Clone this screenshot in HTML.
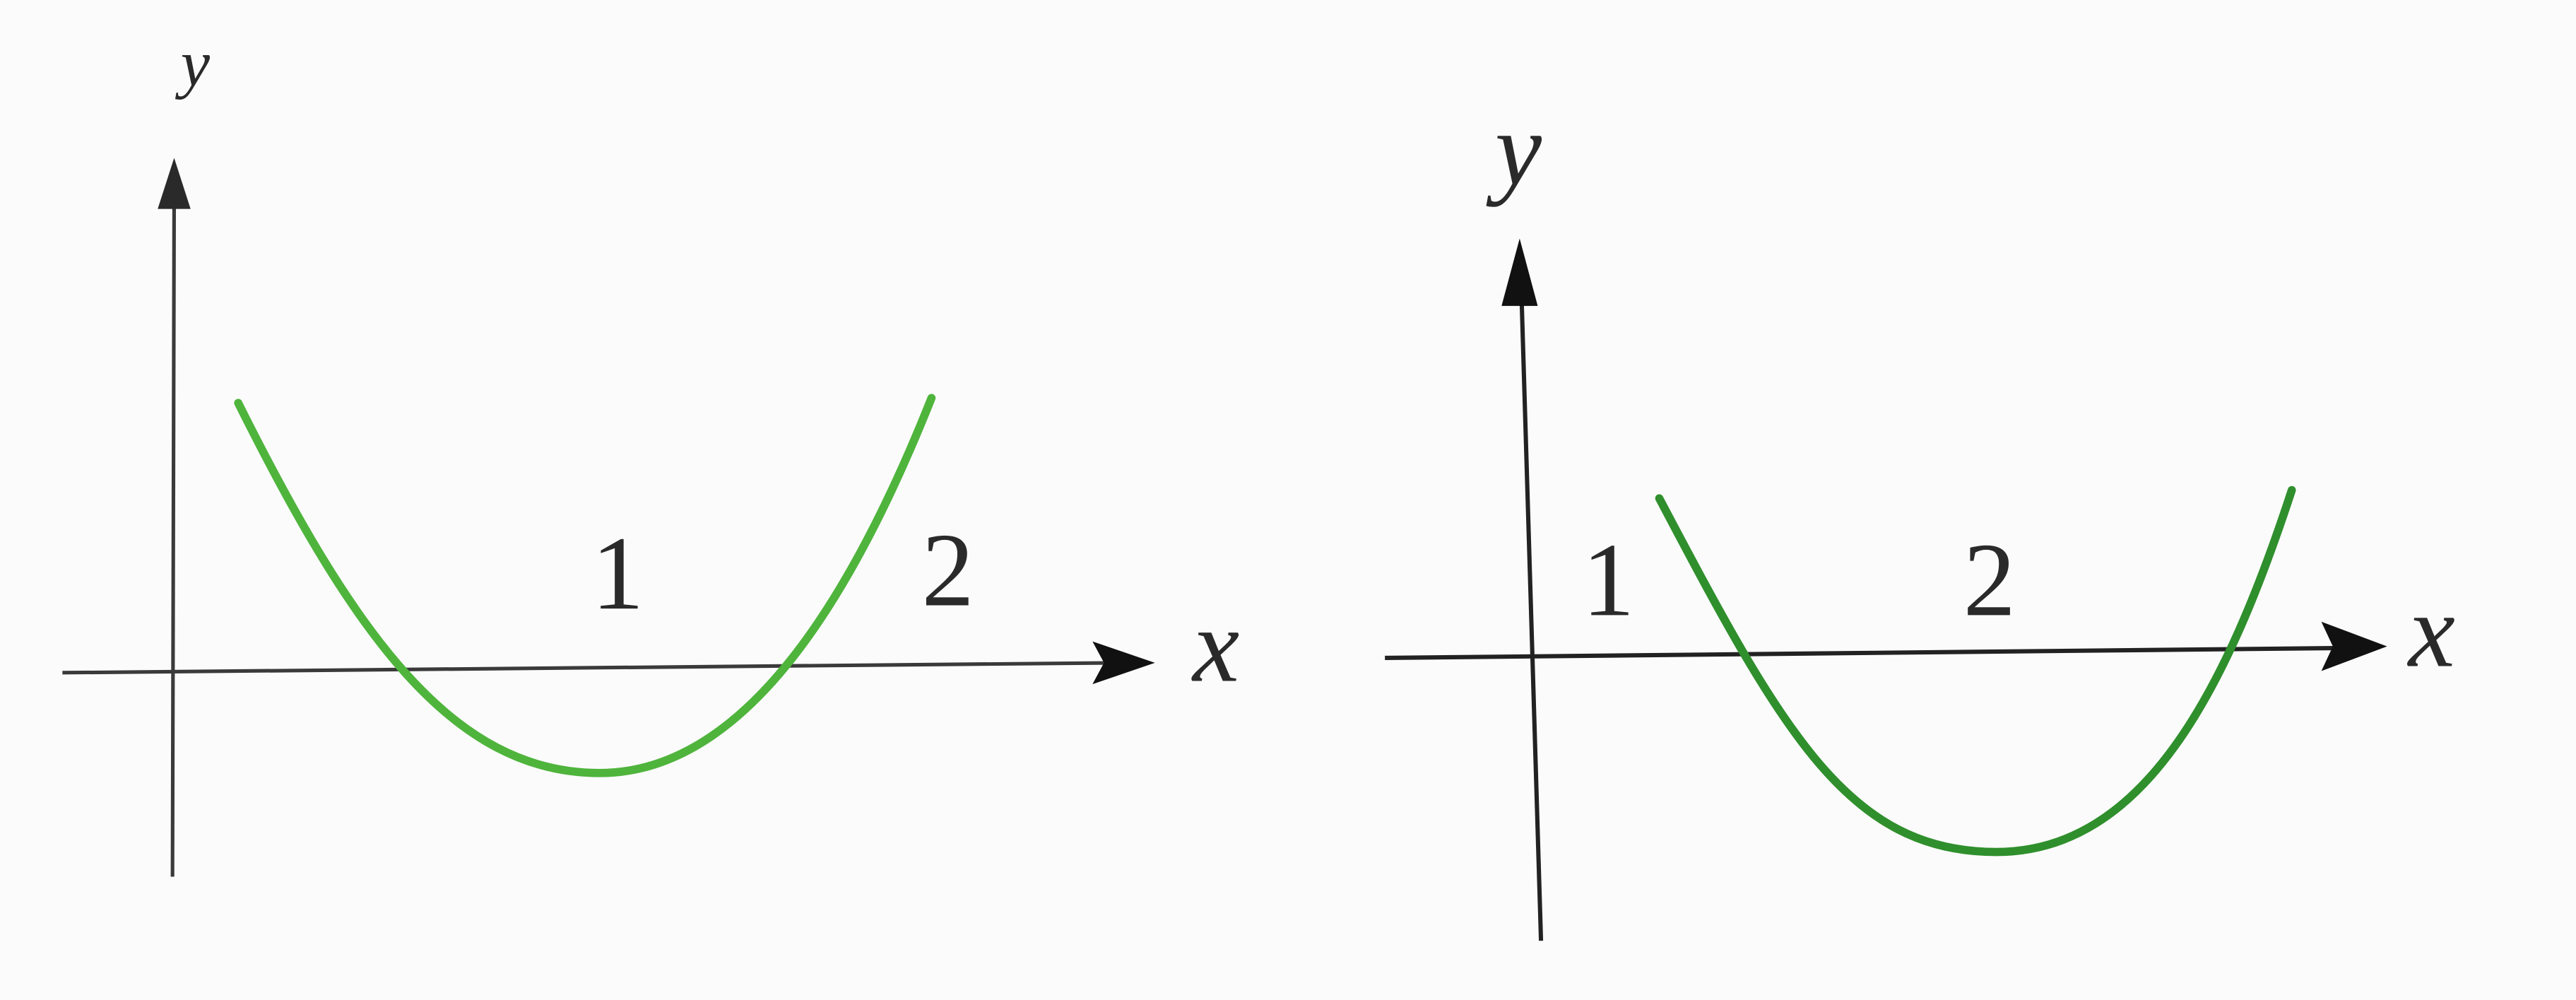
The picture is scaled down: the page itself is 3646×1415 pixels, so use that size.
<!DOCTYPE html>
<html><head><meta charset="utf-8"><style>
html,body{margin:0;padding:0;background:#fbfbfb;}
svg{display:block;}
text{font-family:"Liberation Serif",serif;fill:#2a2a2a;}
</style></head><body>
<svg width="3646" height="1415" viewBox="0 0 1568 608" preserveAspectRatio="none" xmlns="http://www.w3.org/2000/svg">
<rect width="1568" height="608" fill="#fbfbfb"/>
<!-- Left graph -->
<g stroke="#3a3a3a" stroke-width="2.2" fill="none">
<line x1="106" y1="120" x2="105" y2="533"/>
<line x1="38" y1="409" x2="680" y2="403"/>
</g>
<polygon points="106,96 96,127 116,127" fill="#2a2a2a"/>
<polygon points="703,403 665,390 672,403 665,416" fill="#111"/>
<path d="M145,245 C215,385 275,470 365,470 C455,470 520,360 567,242" stroke="#4fb43c" stroke-width="5" fill="none" stroke-linecap="round"/>
<text x="360" y="370" font-size="64">1</text>
<text x="561" y="368" font-size="64">2</text>
<text x="726" y="414" font-size="64" font-style="italic">x</text>
<text x="110" y="52" font-size="40" font-style="italic" fill="#aaa">y</text>
<!-- Right graph -->
<g stroke="#222" stroke-width="2.6" fill="none">
<line x1="926" y1="175" x2="938" y2="572"/>
<line x1="843" y1="400" x2="1425" y2="394"/>
</g>
<polygon points="925,145 914,186 936,186" fill="#111"/>
<polygon points="1453,393 1413,378 1420,393 1413,408" fill="#111"/>
<path d="M1010,303 C1085,445 1125,518 1215,518 C1305,518 1355,420 1395,298" stroke="#2f8f2c" stroke-width="5" fill="none" stroke-linecap="round"/>
<text x="963" y="374" font-size="64">1</text>
<text x="1195" y="374" font-size="64">2</text>
<text x="1466" y="405" font-size="64" font-style="italic" fill="#555">x</text>
<text x="910" y="112" font-size="64" font-style="italic" fill="#555">y</text>
</svg>
</body></html>
